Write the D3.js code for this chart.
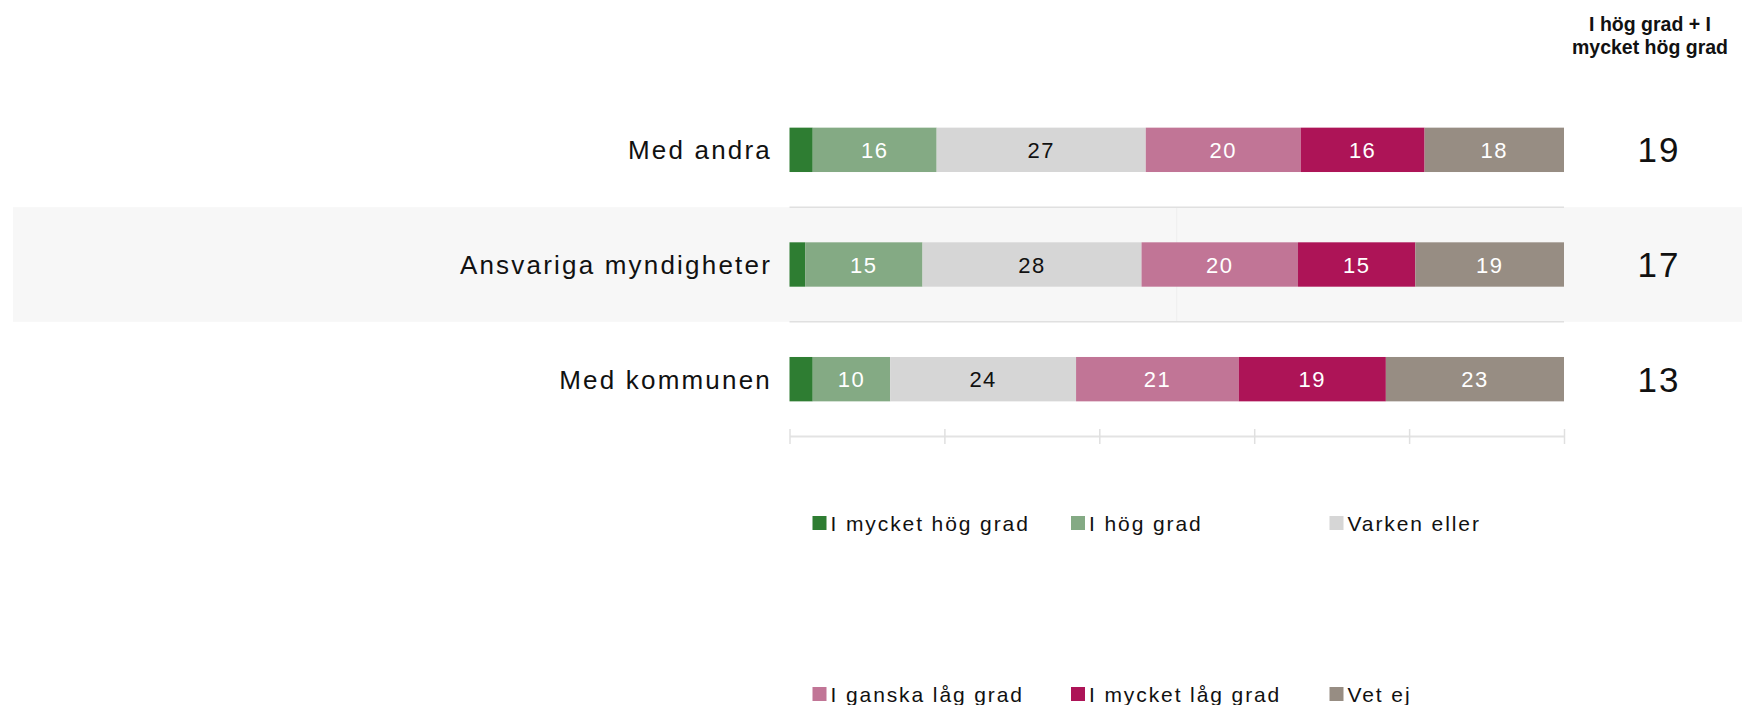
<!DOCTYPE html>
<html>
<head>
<meta charset="utf-8">
<script src="https://cdn.jsdelivr.net/npm/d3@7"></script>
<style>
  html, body { margin: 0; padding: 0; background: #ffffff; }
  svg { display: block; font-family: "Liberation Sans", Arial, sans-serif; }
</style>
</head>
<body>
<svg id="chart" width="1742" height="705"></svg>
<script>
// Survey answers per actor, in percent
const categories = ["Med andra", "Ansvariga myndigheter", "Med kommunen"];
const seriesNames = ["I mycket hög grad", "I hög grad", "Varken eller", "I ganska låg grad", "I mycket låg grad", "Vet ej"];
const mycketHogGrad = [3, 2, 3];
const hogGrad = [16, 15, 10];
const varkenEller = [27, 28, 24];
const ganskaLagGrad = [20, 20, 21];
const mycketLagGrad = [16, 15, 19];
const vetEj = [18, 19, 23];
const hogSumma = [19, 17, 13];
const tickValues = [0, 0.2, 0.4, 0.6, 0.8, 1];
const summaRubrik = ["I hög grad + I", "mycket hög grad"];

const colors = ["#2e7d32", "#84aa84", "#d6d6d6", "#c17596", "#ad1457", "#978d83"];
const labelColors = [null, "#ffffff", "#111111", "#ffffff", "#ffffff", "#ffffff"];

const seriesValues = [mycketHogGrad, hogGrad, varkenEller, ganskaLagGrad, mycketLagGrad, vetEj];
const rows = categories.map((c, i) => {
  const r = { category: c };
  seriesNames.forEach((s, k) => { r[s] = seriesValues[k][i]; });
  return r;
});

const svg = d3.select("#chart");

const x = d3.scaleLinear().domain([0, 1]).range([789.5, 1564]);
const y = d3.scaleBand().domain(categories).range([92.5, 436.5]).paddingInner(0).paddingOuter(0);
const barH = y.bandwidth() * 0.387;
const barY = c => y(c) + (y.bandwidth() - barH) / 2;
const mid = c => y(c) + y.bandwidth() / 2;

// Shaded band behind every second row
svg.append("g").selectAll("rect")
  .data(categories.filter((c, i) => i % 2 === 1))
  .join("rect")
  .attr("x", 13).attr("width", 1742 - 13)
  .attr("y", d => y(d)).attr("height", y.bandwidth())
  .attr("fill", "#f7f7f7");

// Faint midline inside shaded band
svg.append("g").selectAll("line")
  .data(categories.filter((c, i) => i % 2 === 1))
  .join("line")
  .attr("x1", x(0.5)).attr("x2", x(0.5))
  .attr("y1", d => y(d)).attr("y2", d => y(d) + y.bandwidth())
  .attr("stroke", "#eeeeee").attr("stroke-width", 1);

// Row separators across the bar area
svg.append("g").selectAll("line")
  .data(categories.slice(1))
  .join("line")
  .attr("x1", x(0)).attr("x2", x(1))
  .attr("y1", d => y(d)).attr("y2", d => y(d))
  .attr("stroke", "#e0e0e0").attr("stroke-width", 1.5);

// Stacked, normalized bars
const stack = d3.stack().keys(seriesNames).offset(d3.stackOffsetExpand);
const stacked = stack(rows);

const layers = svg.append("g").selectAll("g")
  .data(stacked)
  .join("g")
  .attr("fill", (d, i) => colors[i]);

layers.selectAll("rect")
  .data(d => d.map(p => ({ p, cat: p.data.category })))
  .join("rect")
  .attr("x", d => x(d.p[0]))
  .attr("width", d => x(d.p[1]) - x(d.p[0]))
  .attr("y", d => barY(d.cat))
  .attr("height", barH);

// Segment value labels
stacked.forEach((layer, k) => {
  if (!labelColors[k]) return;
  svg.append("g").selectAll("text")
    .data(layer)
    .join("text")
    .attr("x", p => (x(p[0]) + x(p[1])) / 2)
    .attr("y", p => mid(p.data.category) + 8)
    .attr("text-anchor", "middle")
    .attr("font-size", 22)
    .attr("letter-spacing", 1.5)
    .attr("fill", labelColors[k])
    .text(p => p.data[layer.key]);
});

// Category labels
svg.append("g").selectAll("text")
  .data(categories)
  .join("text")
  .attr("x", 772)
  .attr("y", d => mid(d) + 9.5)
  .attr("text-anchor", "end")
  .attr("font-size", 26)
  .attr("letter-spacing", 2.2)
  .attr("fill", "#111111")
  .text(d => d);

// Bottom axis
const axis = d3.axisBottom(x).tickValues(tickValues).tickSize(0).tickFormat("");
const axisG = svg.append("g").attr("transform", "translate(0,436)").call(axis);
axisG.select(".domain").attr("stroke", "#e3e3e3").attr("stroke-width", 2);
axisG.selectAll(".tick line").remove();
axisG.selectAll(".tick").append("line")
  .attr("y1", -7).attr("y2", 8)
  .attr("stroke", "#e0e0e0").attr("stroke-width", 1.5);

// Summary column
svg.append("g").selectAll("text")
  .data(summaRubrik)
  .join("text")
  .attr("x", 1650)
  .attr("y", (d, i) => 31 + i * 23)
  .attr("text-anchor", "middle")
  .attr("font-size", 19.5)
  .attr("font-weight", "bold")
  .attr("fill", "#111111")
  .text(d => d);

svg.append("g").selectAll("text")
  .data(categories)
  .join("text")
  .attr("x", 1659)
  .attr("y", d => mid(d) + 12.5)
  .attr("text-anchor", "middle")
  .attr("font-size", 35)
  .attr("letter-spacing", 2)
  .attr("fill", "#111111")
  .text((d, i) => hogSumma[i]);

// Legend
const legendX = [812.5, 1071, 1329.5];
const legendY = [516, 687];
const legend = svg.append("g").selectAll("g")
  .data(seriesNames)
  .join("g")
  .attr("transform", (d, i) => `translate(${legendX[i % 3]},${legendY[Math.floor(i / 3)]})`);
legend.append("rect")
  .attr("width", 14).attr("height", 14)
  .attr("fill", (d, i) => colors[i]);
legend.append("text")
  .attr("x", 18).attr("y", 15)
  .attr("font-size", 21)
  .attr("letter-spacing", 1.9)
  .attr("fill", "#111111")
  .text(d => d);
</script>
</body>
</html>
